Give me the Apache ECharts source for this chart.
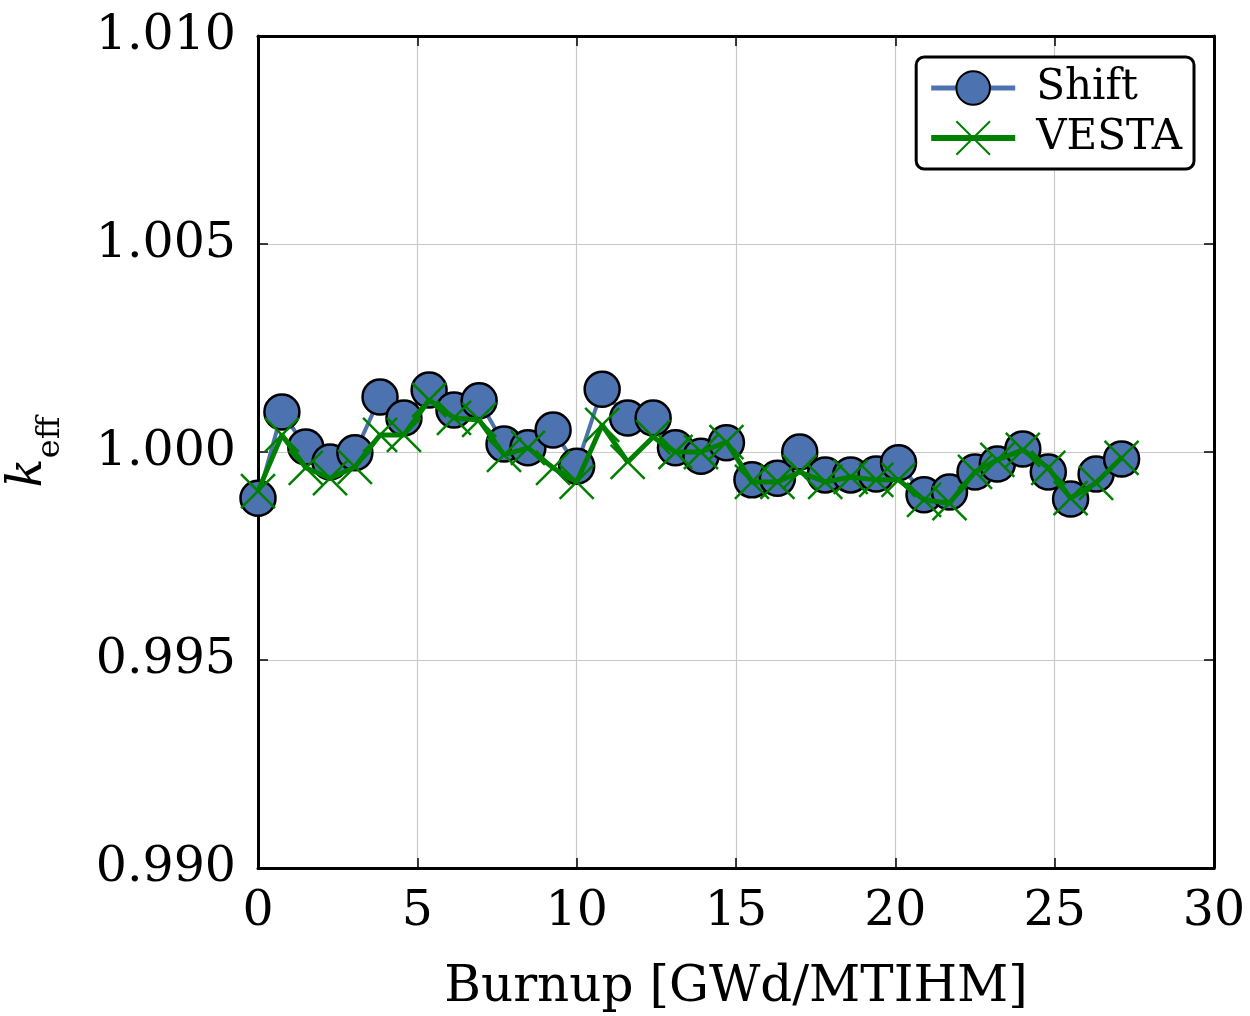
<!DOCTYPE html>
<html>
<head>
<meta charset="utf-8">
<script src="https://cdn.jsdelivr.net/npm/echarts@6/dist/echarts.min.js"></script>
<style>
html,body{margin:0;padding:0;background:#fff;}
#main{width:1250px;height:1016px;}
</style>
</head>
<body>
<div id="main"></div>
<script>
var burnup = [0, 0.75, 1.5, 2.26, 3.04, 3.83, 4.58, 5.37, 6.15, 6.94, 7.72, 8.47, 9.26, 10.0, 10.8, 11.6,
    12.4, 13.1, 13.9, 14.7, 15.5, 16.3, 17.0, 17.8, 18.6, 19.4, 20.1, 20.9, 21.7, 22.5, 23.2, 24.0,
    24.8, 25.5, 26.3, 27.1];
var shiftK = [0.99889, 1.00096, 1.00012, 0.99976, 0.99998, 1.00132, 1.00082, 1.00149, 1.00101, 1.00123,
    1.00019, 1.0001, 1.00053, 0.99966, 1.00151, 1.00082, 1.00082, 1.0001, 0.9999, 1.00022,
    0.99933, 0.99937, 1.0, 0.99945, 0.99945, 0.99947, 0.99974, 0.99897, 0.99904, 0.99952,
    0.99971, 1.00007, 0.99952, 0.99887, 0.99947, 0.99983];
var vestaK = [0.99906, 1.00041, 0.99962, 0.99937, 0.99964, 1.00041, 1.00041, 1.00125, 1.00082, 1.00077,
    0.99993, 1.0001, 0.99962, 0.99928, 1.00065, 0.99976, 1.00036, 1.0, 1.0, 1.00024,
    0.99928, 0.99928, 0.99952, 0.99928, 0.9994, 0.99933, 0.99933, 0.99885, 0.99877, 0.99952,
    0.99981, 1.00005, 0.99962, 0.99889, 0.99926, 0.99986];

function pairs(xs, ys) {
    var out = [];
    for (var i = 0; i < xs.length; i++) {
        out.push([xs[i], ys[i]]);
    }
    return out;
}

var serif = 'DejaVu Serif';
var crossPath = 'path://M0,0L10,10M10,0L0,10';
var blue = '#4c72b0';
var green = '#008000';

var myChart = echarts.init(document.getElementById('main'));
var option = {
    animation: false,
    backgroundColor: '#fff',
    grid: {left: 258, right: 36, top: 36, bottom: 148, containLabel: false, outerBoundsMode: 'none'},
    legend: {
        right: 56,
        top: 57,
        orient: 'vertical',
        backgroundColor: '#fff',
        borderColor: '#000',
        borderWidth: 3,
        borderRadius: 8,
        padding: [10, 12, 10, 12],
        itemWidth: 84,
        itemHeight: 42,
        itemGap: 8,
        textStyle: {fontFamily: serif, fontSize: 42, color: '#000', padding: [0, 0, 0, 16]},
        data: [
            {name: 'Shift', lineStyle: {width: 5, color: blue}},
            {name: 'VESTA', lineStyle: {width: 6, color: green}}
        ]
    },
    xAxis: [
        {
            type: 'value', min: 0, max: 30, interval: 5,
            name: 'Burnup [GWd/MTIHM]', nameLocation: 'middle', nameGap: 95,
            nameTextStyle: {fontFamily: serif, fontSize: 50, color: '#000'},
            axisLine: {show: true, onZero: false, lineStyle: {color: '#000', width: 3}},
            axisTick: {show: true, inside: true, length: 10, lineStyle: {color: '#000', width: 1.5}},
            axisLabel: {fontFamily: serif, fontSize: 49, color: '#000', margin: 20},
            splitLine: {show: true, lineStyle: {color: '#c8c8c8', width: 1.2}}
        },
        {
            type: 'value', min: 0, max: 30, interval: 5, position: 'top',
            axisLine: {show: true, onZero: false, lineStyle: {color: '#000', width: 3}},
            axisTick: {show: true, inside: true, length: 10, lineStyle: {color: '#000', width: 1.5}},
            axisLabel: {show: false},
            splitLine: {show: false}
        }
    ],
    yAxis: [
        {
            type: 'value', min: 0.990, max: 1.010, interval: 0.005,
            name: '{k|k}{s|eff}', nameLocation: 'middle', nameGap: 205, nameRotate: 90,
            nameTextStyle: {
                color: '#000',
                rich: {
                    k: {fontFamily: serif, fontStyle: 'italic', fontSize: 48, color: '#000'},
                    s: {fontFamily: serif, fontSize: 32, color: '#000', verticalAlign: 'bottom', padding: [0, 0, -14, 0]}
                }
            },
            axisLine: {show: true, onZero: false, lineStyle: {color: '#000', width: 3}},
            axisTick: {show: true, inside: true, length: 10, lineStyle: {color: '#000', width: 1.5}},
            axisLabel: {
                fontFamily: serif, fontSize: 49, color: '#000', margin: 22,
                formatter: function (v) { return v.toFixed(3); }
            },
            splitLine: {show: true, lineStyle: {color: '#c8c8c8', width: 1.2}}
        },
        {
            type: 'value', min: 0.990, max: 1.010, interval: 0.005, position: 'right',
            axisLine: {show: true, onZero: false, lineStyle: {color: '#000', width: 3}},
            axisTick: {show: true, inside: true, length: 10, lineStyle: {color: '#000', width: 1.5}},
            axisLabel: {show: false},
            splitLine: {show: false}
        }
    ],
    series: [
        {
            name: 'Shift',
            type: 'line',
            data: pairs(burnup, shiftK),
            symbol: 'circle',
            symbolSize: 35,
            lineStyle: {color: blue, width: 4},
            itemStyle: {color: blue, borderColor: '#000', borderWidth: 2.5},
            z: 2
        },
        {
            name: 'VESTA',
            type: 'line',
            data: pairs(burnup, vestaK),
            symbol: crossPath,
            symbolSize: 34,
            lineStyle: {color: green, width: 5},
            itemStyle: {color: 'none', borderColor: green, borderWidth: 2.5},
            z: 3
        }
    ]
};
myChart.setOption(option);
</script>
</body>
</html>
